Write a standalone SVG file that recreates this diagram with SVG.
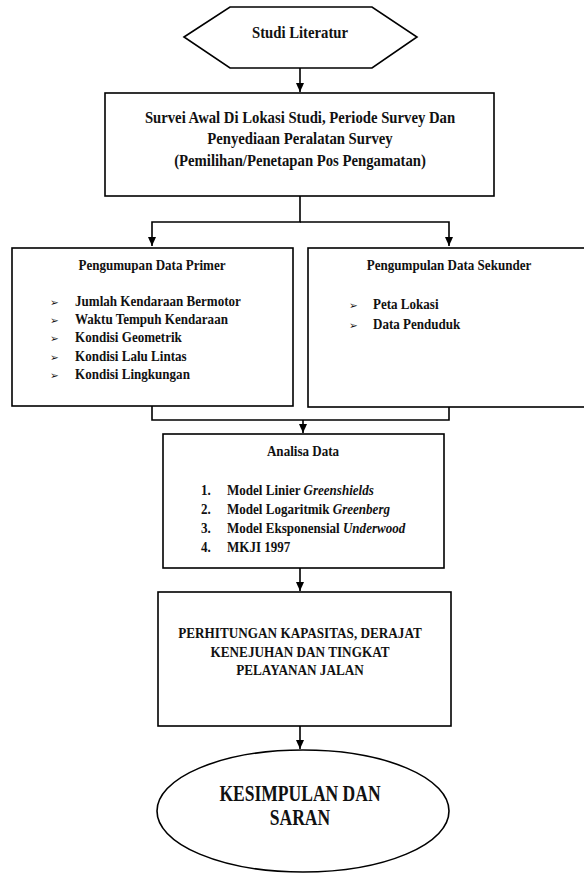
<svg xmlns="http://www.w3.org/2000/svg" width="584" height="874" viewBox="0 0 584 874">
<style>
.s{fill:#fff;stroke:#000;stroke-width:1.6}
.c{fill:none;stroke:#000;stroke-width:1.6}
text{font-family:'Liberation Serif','Times New Roman',serif;font-weight:bold;fill:#111}
.m{text-anchor:middle}
.t16{font-size:16px}
.t15{font-size:15px}
.b{font-family:'DejaVu Sans',sans-serif;font-size:10.5px;font-weight:normal}
.i{font-style:italic}
</style>
<defs>
<marker id="ah" markerWidth="10" markerHeight="10" refX="9" refY="5" orient="auto" markerUnits="userSpaceOnUse">
<path d="M0,1 L9,5 L0,9 Z" fill="#000"/>
</marker>
</defs>
<g id="connectors">
<line class="c" x1="300" y1="68" x2="300" y2="92" marker-end="url(#ah)"/>
<path class="c" d="M300,196 V222 H152 V246" marker-end="url(#ah)"/>
<path class="c" d="M300,222 H449 V246" marker-end="url(#ah)"/>
<path class="c" d="M152,406 V420 H449 V407"/>
<line class="c" x1="303" y1="420" x2="303" y2="433" marker-end="url(#ah)"/>
<line class="c" x1="300" y1="568" x2="300" y2="591" marker-end="url(#ah)"/>
<line class="c" x1="300" y1="726" x2="300" y2="749" marker-end="url(#ah)"/>
</g>
<g id="studi-literatur">
<polygon class="s" points="184,37 230,7 372,7 417,37 372,68 230,68"/>
<text class="m t16" transform="translate(300,38) scale(0.92,1)">Studi Literatur</text>
</g>
<g id="survei-awal">
<rect class="s" x="105" y="93" width="389" height="103"/>
<text class="m t16" transform="translate(300,123) scale(0.92,1)">Survei Awal Di Lokasi Studi, Periode Survey Dan</text>
<text class="m t16" transform="translate(300,144) scale(0.92,1)">Penyediaan Peralatan Survey</text>
<text class="m t16" transform="translate(300,166) scale(0.92,1)">(Pemilihan/Penetapan Pos Pengamatan)</text>
</g>
<g id="data-primer">
<rect class="s" x="12" y="248" width="281" height="158"/>
<text class="m t15" transform="translate(152,270) scale(0.87,1)">Pengumupan Data Primer</text>
<text class="b" x="50" y="306">➢</text>
<text class="b" x="50" y="324">➢</text>
<text class="b" x="50" y="342">➢</text>
<text class="b" x="50" y="361">➢</text>
<text class="b" x="50" y="379">➢</text>
<text class="t15" transform="translate(75,306) scale(0.87,1)">Jumlah Kendaraan Bermotor</text>
<text class="t15" transform="translate(75,324) scale(0.87,1)">Waktu Tempuh Kendaraan</text>
<text class="t15" transform="translate(75,342) scale(0.87,1)">Kondisi Geometrik</text>
<text class="t15" transform="translate(75,361) scale(0.87,1)">Kondisi Lalu Lintas</text>
<text class="t15" transform="translate(75,379) scale(0.87,1)">Kondisi Lingkungan</text>
</g>
<g id="data-sekunder">
<rect class="s" x="308" y="248" width="280" height="159"/>
<text class="m t15" transform="translate(449,270) scale(0.87,1)">Pengumpulan Data Sekunder</text>
<text class="b" x="349" y="309">➢</text>
<text class="b" x="349" y="329">➢</text>
<text class="t15" transform="translate(373,309) scale(0.87,1)">Peta Lokasi</text>
<text class="t15" transform="translate(373,329) scale(0.87,1)">Data Penduduk</text>
</g>
<g id="analisa-data">
<rect class="s" x="163" y="434" width="281" height="134"/>
<text class="m t15" transform="translate(303,456) scale(0.87,1)">Analisa Data</text>
<text class="t15" transform="translate(201,495) scale(0.87,1)">1.</text>
<text class="t15" transform="translate(201,514) scale(0.87,1)">2.</text>
<text class="t15" transform="translate(201,533) scale(0.87,1)">3.</text>
<text class="t15" transform="translate(201,552) scale(0.87,1)">4.</text>
<text class="t15" transform="translate(227,495) scale(0.87,1)">Model Linier <tspan class="i">Greenshields</tspan></text>
<text class="t15" transform="translate(227,514) scale(0.87,1)">Model Logaritmik <tspan class="i">Greenberg</tspan></text>
<text class="t15" transform="translate(227,533) scale(0.87,1)">Model Eksponensial <tspan class="i">Underwood</tspan></text>
<text class="t15" transform="translate(227,552) scale(0.87,1)">MKJI 1997</text>
</g>
<g id="perhitungan">
<rect class="s" x="158" y="592" width="293" height="134"/>
<text class="m t15" transform="translate(300,638) scale(0.88,1)">PERHITUNGAN KAPASITAS, DERAJAT</text>
<text class="m t15" transform="translate(300,657) scale(0.88,1)">KENEJUHAN DAN TINGKAT</text>
<text class="m t15" transform="translate(300,675) scale(0.88,1)">PELAYANAN JALAN</text>
</g>
<g id="kesimpulan">
<ellipse class="s" cx="303" cy="811" rx="146" ry="61"/>
<text class="m" font-size="22.5" transform="translate(300,801) scale(0.78,1)">KESIMPULAN DAN</text>
<text class="m" font-size="22.5" transform="translate(300,825) scale(0.78,1)">SARAN</text>
</g>
</svg>
